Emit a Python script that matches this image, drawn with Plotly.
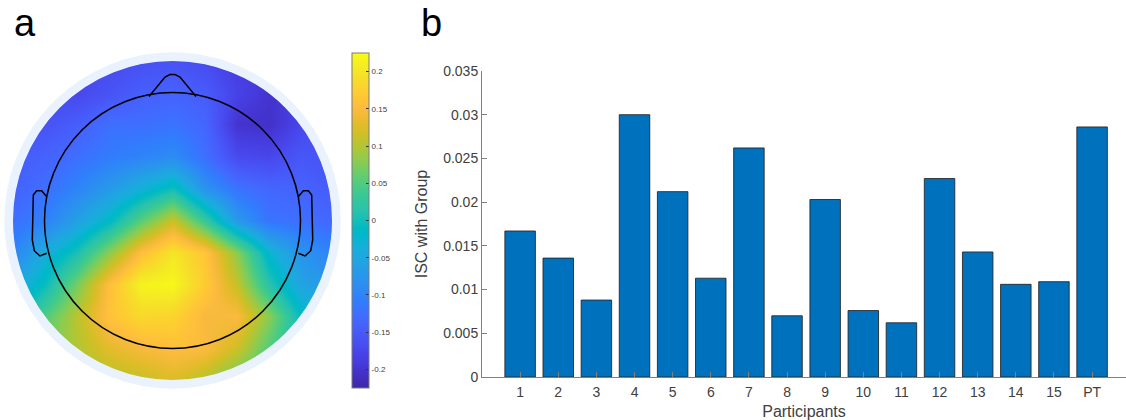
import math
import plotly.graph_objects as go

# ---------------- data ----------------
participants = ["1", "2", "3", "4", "5", "6", "7", "8", "9", "10", "11", "12", "13", "14", "15", "PT"]
isc_values = [0.0167, 0.0136, 0.0088, 0.0300, 0.0212, 0.0113, 0.0262, 0.0070,
              0.0203, 0.0076, 0.0062, 0.0227, 0.0143, 0.0106, 0.0109, 0.0286]
y_tick_vals = [0, 0.005, 0.01, 0.015, 0.02, 0.025, 0.03, 0.035]
y_tick_text = ["0", "0.005", "0.01", "0.015", "0.02", "0.025", "0.03", "0.035"]

cbar_tick_vals = [0.2, 0.15, 0.1, 0.05, 0, -0.05, -0.1, -0.15, -0.2]
cbar_tick_text = ["0.2", "0.15", "0.1", "0.05", "0", "-0.05", "-0.1", "-0.15", "-0.2"]

# topography grid (head-radius units), rows from front (top) to back (bottom)
topo_x = [-1.25, -1.0, -0.75, -0.5, -0.25, 0.0, 0.25, 0.5, 0.75, 1.0, 1.25]
topo_y = [1.25, 1.0, 0.75, 0.5, 0.25, 0.0, -0.25, -0.5, -0.75, -1.0, -1.25]
topo_values = [
    [-0.150, -0.160, -0.170, -0.170, -0.165, -0.160, -0.170, -0.190, -0.190, -0.180, -0.170],
    [-0.170, -0.170, -0.175, -0.160, -0.145, -0.140, -0.150, -0.180, -0.200, -0.190, -0.180],
    [-0.165, -0.160, -0.145, -0.125, -0.125, -0.120, -0.135, -0.200, -0.205, -0.175, -0.160],
    [-0.150, -0.140, -0.125, -0.110, -0.100, -0.090, -0.125, -0.170, -0.175, -0.155, -0.160],
    [-0.140, -0.125, -0.100, -0.070, -0.035, 0.000, -0.080, -0.120, -0.135, -0.140, -0.150],
    [-0.125, -0.105, -0.060, -0.015, 0.055, 0.115, 0.030, -0.070, -0.120, -0.125, -0.135],
    [-0.100, -0.040, 0.005, 0.080, 0.155, 0.200, 0.165, 0.080, -0.025, -0.080, -0.100],
    [-0.055, -0.005, 0.070, 0.155, 0.215, 0.220, 0.170, 0.110, 0.015, -0.055, -0.075],
    [-0.020, 0.050, 0.105, 0.160, 0.185, 0.180, 0.145, 0.150, 0.080, -0.010, -0.040],
    [0.040, 0.070, 0.100, 0.130, 0.145, 0.155, 0.150, 0.115, 0.050, 0.000, -0.020],
    [0.060, 0.080, 0.090, 0.100, 0.110, 0.125, 0.100, 0.060, 0.030, 0.010, 0.000],
]

# ---------------- styling ----------------
PARULA = [
    (0.2422, 0.1504, 0.6603), (0.2504, 0.1650, 0.7076), (0.2578, 0.1818, 0.7511), (0.2647, 0.1978, 0.7952),
    (0.2706, 0.2147, 0.8364), (0.2751, 0.2342, 0.8710), (0.2783, 0.2559, 0.8991), (0.2803, 0.2782, 0.9221),
    (0.2813, 0.3006, 0.9414), (0.2810, 0.3228, 0.9579), (0.2795, 0.3447, 0.9717), (0.2760, 0.3667, 0.9829),
    (0.2699, 0.3892, 0.9906), (0.2602, 0.4123, 0.9952), (0.2440, 0.4358, 0.9988), (0.2206, 0.4603, 0.9973),
    (0.1963, 0.4847, 0.9892), (0.1834, 0.5074, 0.9798), (0.1786, 0.5289, 0.9682), (0.1764, 0.5499, 0.9520),
    (0.1687, 0.5703, 0.9359), (0.1540, 0.5902, 0.9218), (0.1460, 0.6091, 0.9079), (0.1380, 0.6276, 0.8973),
    (0.1248, 0.6459, 0.8883), (0.1113, 0.6635, 0.8763), (0.0952, 0.6798, 0.8598), (0.0689, 0.6948, 0.8394),
    (0.0297, 0.7082, 0.8163), (0.0036, 0.7203, 0.7917), (0.0067, 0.7312, 0.7660), (0.0433, 0.7411, 0.7394),
    (0.0964, 0.7500, 0.7120), (0.1408, 0.7584, 0.6842), (0.1717, 0.7670, 0.6554), (0.1938, 0.7758, 0.6251),
    (0.2161, 0.7843, 0.5923), (0.2470, 0.7918, 0.5567), (0.2906, 0.7973, 0.5188), (0.3406, 0.8008, 0.4789),
    (0.3909, 0.8029, 0.4354), (0.4456, 0.8024, 0.3909), (0.5044, 0.7993, 0.3480), (0.5616, 0.7942, 0.3045),
    (0.6174, 0.7876, 0.2612), (0.6720, 0.7793, 0.2227), (0.7242, 0.7698, 0.1910), (0.7738, 0.7598, 0.1646),
    (0.8203, 0.7498, 0.1535), (0.8634, 0.7406, 0.1596), (0.9035, 0.7330, 0.1774), (0.9393, 0.7288, 0.2100),
    (0.9728, 0.7298, 0.2394), (0.9956, 0.7434, 0.2371), (0.9970, 0.7659, 0.2199), (0.9952, 0.7893, 0.2028),
    (0.9892, 0.8136, 0.1885), (0.9786, 0.8386, 0.1766), (0.9676, 0.8639, 0.1643), (0.9610, 0.8890, 0.1537),
    (0.9597, 0.9135, 0.1423), (0.9628, 0.9373, 0.1265), (0.9691, 0.9606, 0.1064), (0.9769, 0.9839, 0.0805),
]
n = len(PARULA)
colorscale = [[i / (n - 1), "rgb(%d,%d,%d)" % tuple(round(c * 255) for c in rgb)] for i, rgb in enumerate(PARULA)]

FONT = "Liberation Sans, Arial, sans-serif"
W, H = 1126, 420
PX = 128.0             # pixels per head radius
CX, CY = 172.5, 220.5  # head centre in pixels (from top-left)
DISK_R = 1.25
RING_R = 1.31

fig = go.Figure()

# ---------------- panel a: topography ----------------
fig.add_trace(go.Heatmap(
    x=topo_x, y=topo_y, z=topo_values,
    colorscale=colorscale, zmin=-0.225, zmax=0.225, zsmooth="best",
    xaxis="x", yaxis="y", hoverinfo="skip",
    colorbar=dict(
        x=352 / W, xanchor="left", y=(H - CY) / H, yanchor="middle",
        thickness=17, thicknessmode="pixels", len=335, lenmode="pixels",
        xpad=0, ypad=0, outlinecolor="#7a7a7a", outlinewidth=1,
        tickvals=cbar_tick_vals, ticktext=cbar_tick_text,
        ticks="inside", ticklen=3, tickcolor="#333333",
        tickfont=dict(family=FONT, size=8, color="#404040"),
    ),
))


def circle_pts(r, k=180):
    return [(r * math.cos(2 * math.pi * i / k), r * math.sin(2 * math.pi * i / k)) for i in range(k)]


pts = circle_pts(DISK_R)
mask = "M -2 -2 L 2 -2 L 2 2 L -2 2 Z M " + " L ".join("%.4f %.4f" % p for p in pts) + " Z"
shapes = [
    dict(type="path", path=mask, xref="x", yref="y", fillcolor="white",
         line=dict(width=0), fillrule="evenodd", layer="above"),
    dict(type="circle", xref="x", yref="y",
         x0=-(DISK_R + RING_R) / 2, x1=(DISK_R + RING_R) / 2,
         y0=-(DISK_R + RING_R) / 2, y1=(DISK_R + RING_R) / 2,
         line=dict(color="#EAF2FD", width=(RING_R - DISK_R) * PX + 1), layer="above"),
    dict(type="circle", xref="x", yref="y", x0=-1, x1=1, y0=-1, y1=1,
         line=dict(color="black", width=1.5), layer="above"),
]


def to_u(px, py):
    return ((px - CX) / PX, (CY - py) / PX)


nose_px = [(149, 96.5), (165, 77), (170, 74.5), (175, 74.5), (180, 77), (196, 96.5)]
ear_px = [(46.7, 196.7), (41.7, 190.7), (36.7, 190.7), (33.3, 195), (32.3, 240),
          (34.3, 250.7), (40, 256), (46.7, 253.3)]


def path_from(points):
    return "M " + " L ".join("%.4f %.4f" % p for p in points)


nose = [to_u(*p) for p in nose_px]
ear_l = [to_u(*p) for p in ear_px]
ear_r = [(-x, y) for (x, y) in ear_l]
for pth in (nose, ear_l, ear_r):
    shapes.append(dict(type="path", path=path_from(pth), xref="x", yref="y",
                       line=dict(color="black", width=1.5), layer="above"))

# ---------------- panel b: bars ----------------
positions = list(range(1, len(participants) + 1))
fig.add_trace(go.Bar(
    x=positions, y=isc_values, width=0.8, xaxis="x2", yaxis="y2",
    marker=dict(color="#0072BD", line=dict(color="rgba(35,35,35,0.85)", width=1)),
    hoverinfo="skip", showlegend=False,
))

axis_col = "#808080"
tick_font = dict(family=FONT, size=14, color="#404040")

fig.update_layout(
    width=W, height=H, margin=dict(l=0, r=0, t=0, b=0, autoexpand=False),
    paper_bgcolor="white", plot_bgcolor="rgba(0,0,0,0)",
    showlegend=False, shapes=shapes,
    xaxis=dict(domain=[0, 345 / W], range=[-CX / PX, (345 - CX) / PX], automargin=False,
               visible=False, showgrid=False, zeroline=False, fixedrange=True),
    yaxis=dict(domain=[0, 1], range=[-(H - CY) / PX, CY / PX], automargin=False,
               visible=False, showgrid=False, zeroline=False, fixedrange=True),
    xaxis2=dict(domain=[482 / W, 1], range=[0, (W - 482) / 38.13],
                anchor="y2", tickvals=positions, ticktext=participants, automargin=False,
                ticks="inside", ticklen=5, tickcolor=axis_col, tickwidth=1,
                ticklabelstandoff=2,
                showline=True, linecolor=axis_col, linewidth=1,
                showgrid=False, zeroline=False, tickfont=tick_font,
                title=dict(text="Participants", standoff=9,
                           font=dict(family=FONT, size=16, color="#404040"))),
    yaxis2=dict(domain=[(H - 377) / H, (H - 71) / H], range=[0, 0.035],
                anchor="x2", tickvals=y_tick_vals, ticktext=y_tick_text, automargin=False,
                ticks="inside", ticklen=5, tickcolor=axis_col, tickwidth=1,
                showline=True, linecolor=axis_col, linewidth=1,
                showgrid=False, zeroline=False, tickfont=tick_font,
                title=dict(text="ISC with Group", standoff=11,
                           font=dict(family=FONT, size=16, color="#404040"))),
    annotations=[
        dict(text="a", x=25 / W, y=(H - 46) / H, xref="paper", yref="paper",
             xanchor="center", yanchor="bottom", showarrow=False,
             font=dict(family=FONT, size=38, color="black")),
        dict(text="b", x=431 / W, y=(H - 46) / H, xref="paper", yref="paper",
             xanchor="center", yanchor="bottom", showarrow=False,
             font=dict(family=FONT, size=38, color="black")),
    ],
)

fig.write_html("out.html", config={"displayModeBar": False},
               post_script="document.body.style.margin='0';document.body.style.overflow='hidden';")
